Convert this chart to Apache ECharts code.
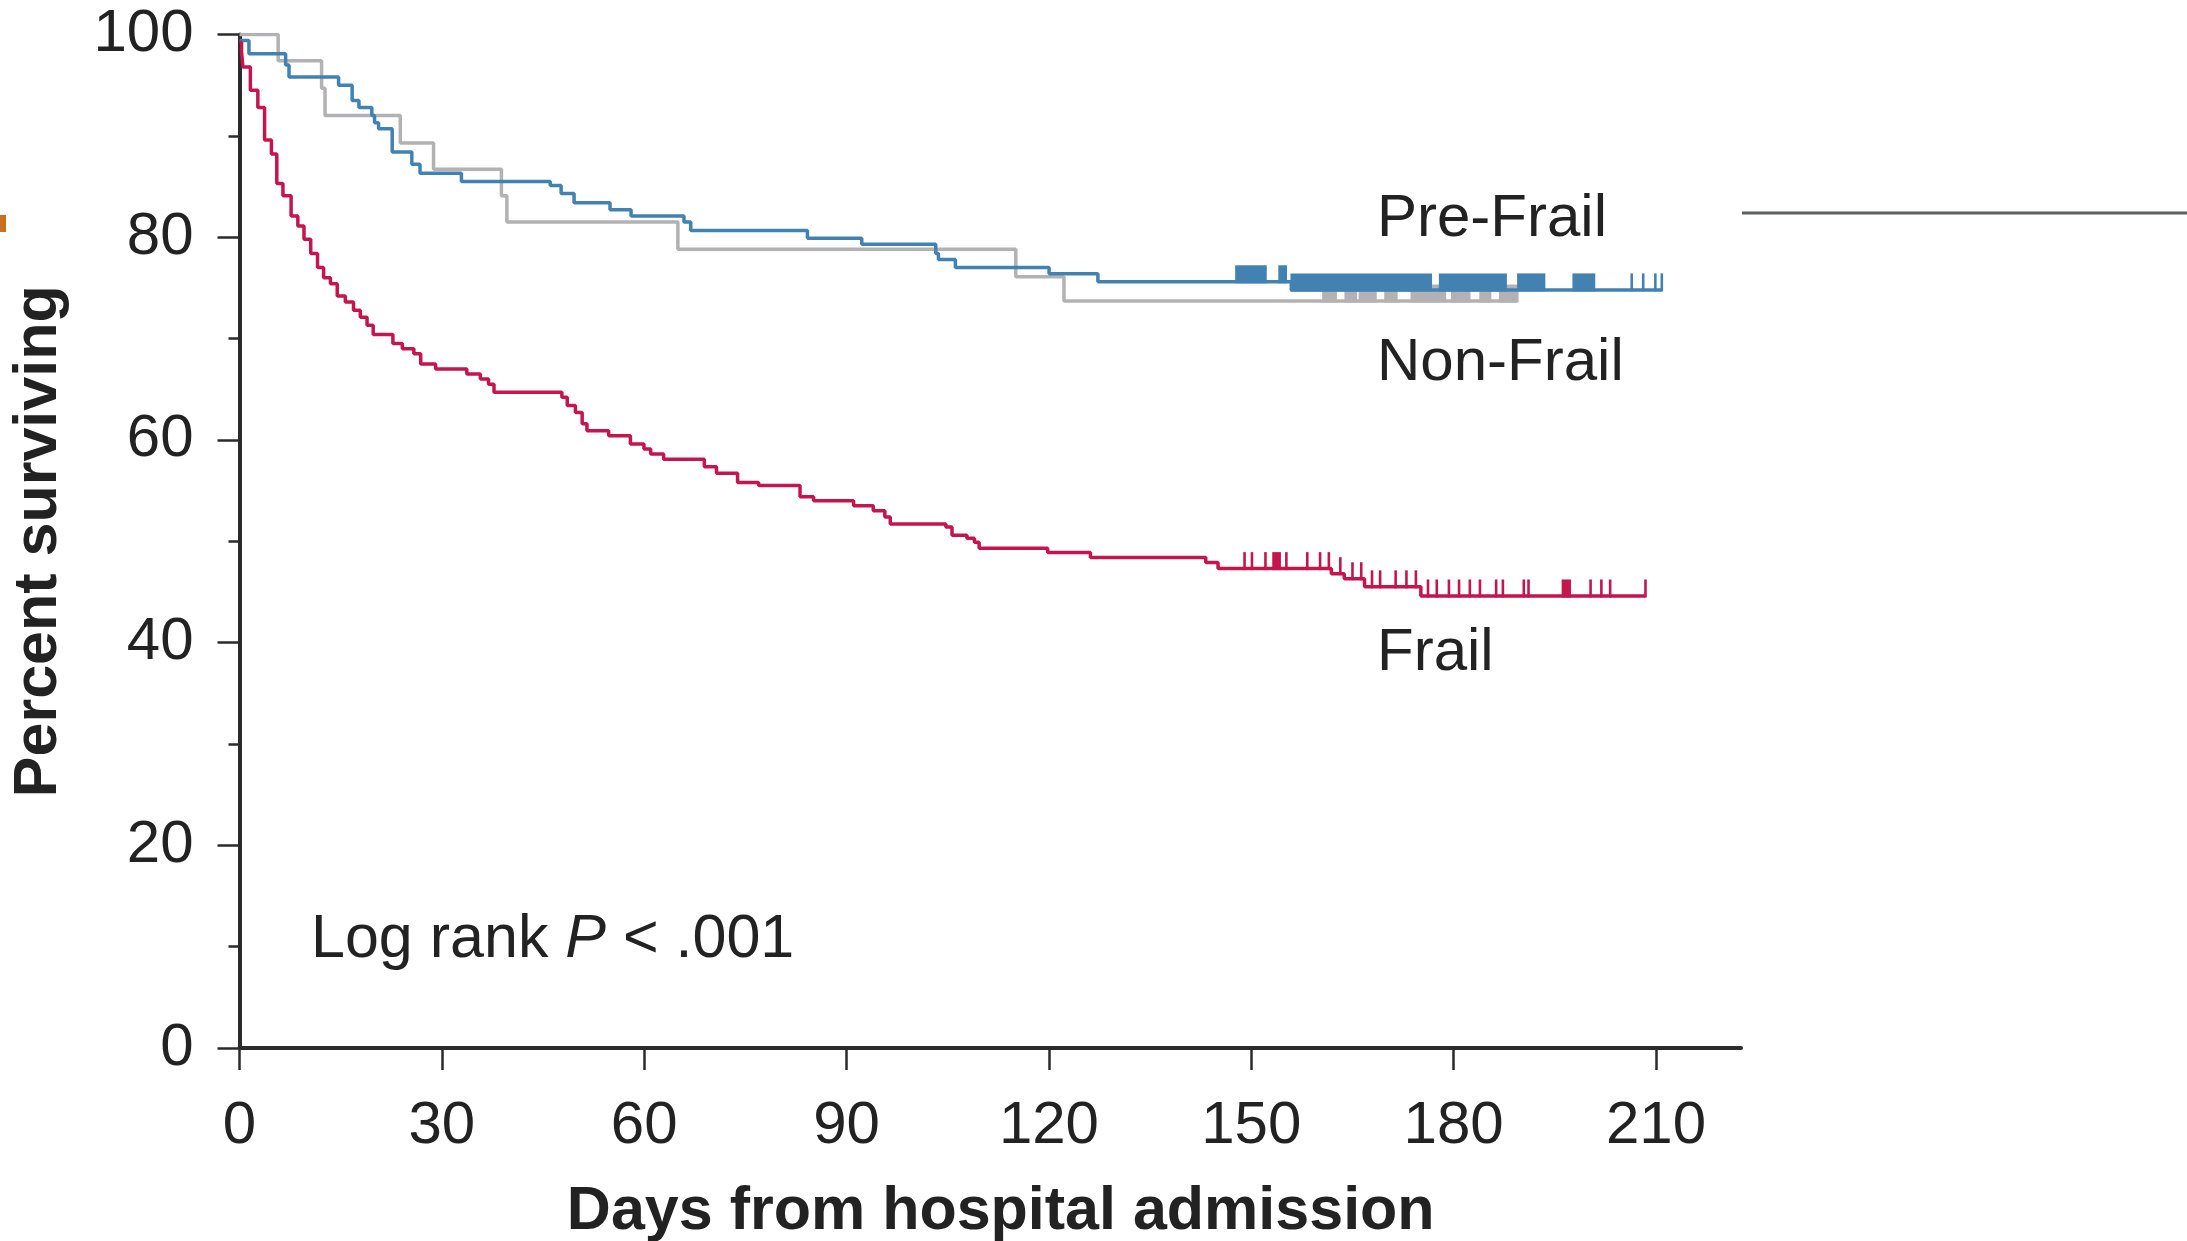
<!DOCTYPE html>
<html>
<head>
<meta charset="utf-8">
<title>Survival by frailty status</title>
<script src="https://cdn.jsdelivr.net/npm/echarts@6/dist/echarts.min.js"></script>
<style>
  html, body { margin: 0; padding: 0; background: #fff; }
  #chart { width: 2187px; height: 1241px; }
</style>
</head>
<body>
<div id="chart"></div>
<script>
// Kaplan-Meier steps: day at which the level starts, percent surviving
const nonFrailDays = [0, 5.73, 12.17, 12.68, 23.84, 28.77, 38.83, 39.64, 64.99, 115.09, 122.23, 189.43]
const nonFrailPct = [100, 97.4, 94.7, 92.0, 89.3, 86.7, 84.1, 81.5, 78.8, 76.1, 73.7, 73.7]

const preFrailDays = [0, 1.4, 6.84, 7.34, 14.69, 16.7, 17.71, 19.62, 20.02, 20.62, 22.64, 25.55, 26.76, 32.9,
  46.07, 47.68, 49.6, 54.93, 58.05, 65.89, 66.9, 84.2, 92.25, 103.22, 103.62, 106.13, 120.02, 127.26, 155.93, 210.86]
const preFrailPct = [99.4, 98.1, 97.0, 95.8, 95.0, 93.5, 92.8, 92.0, 91.3, 90.7, 88.4, 87.2, 86.3, 85.5,
  85.1, 84.3, 83.4, 82.7, 82.1, 81.5, 80.65, 79.9, 79.3, 78.4, 77.8, 77.0, 76.4, 75.6, 74.8, 74.8]

const frailDays = [0, 0.3, 0.5, 1.61, 2.72, 3.72, 4.73, 5.53, 6.44, 7.65, 8.65, 9.56, 10.56, 11.57, 12.47, 13.48,
  14.49, 15.69, 16.9, 17.91, 18.91, 19.82, 22.74, 24.14, 25.85, 26.86, 29.07, 33.7, 35.71, 36.92, 37.73, 47.79,
  48.59, 49.8, 50.8, 51.51, 54.73, 57.95, 59.96, 60.96, 62.88, 68.91, 70.72, 73.84, 76.96, 83.1, 85.11, 91.04,
  93.96, 95.67, 96.48, 104.72, 105.63, 107.84, 108.95, 109.65, 119.81, 126.15, 143.25, 145.07, 161.87, 163.78,
  166.79, 175.14, 208.44]
const frailPct = [99.2, 98.3, 96.8, 94.5, 92.8, 89.6, 88.2, 85.3, 84.1, 82.1, 81.1, 79.8, 78.4, 77.0, 76.0, 75.4,
  74.2, 73.6, 72.8, 72.1, 71.3, 70.4, 69.5, 69.0, 68.5, 67.5, 67.0, 66.5, 66.0, 65.5, 64.7, 64.2,
  63.4, 62.7, 61.6, 60.9, 60.4, 59.6, 59.1, 58.6, 58.1, 57.35, 56.7, 55.8, 55.5, 54.4, 54.0, 53.5,
  53.0, 52.4, 51.7, 51.4, 50.6, 50.3, 49.9, 49.3, 48.9, 48.4, 47.9, 47.3, 46.8, 46.3,
  45.5, 44.6, 44.6]

// censored observations: [from day, to day] (dense clusters become blocks)
const preFrailCensor = [[147.8, 152.1], [154.2, 155.1], [156.0, 176.6], [178.0, 187.7], [189.6, 193.4],
  [197.8, 200.8], [206.4, 206.4], [208.1, 208.1], [209.9, 209.9], [210.86, 210.86]]
const nonFrailCensor = [[160.7, 162.5], [164.0, 165.5], [166.1, 168.4], [169.9, 171.5], [173.8, 178.7],
  [179.8, 182.3], [184.0, 185.4], [186.9, 189.43]]
const frailCensor = [[149.0, 149.0], [150.1, 150.1], [152.1, 152.1], [153.3, 154.2], [155.2, 155.2],
  [158.3, 158.3], [160.2, 160.2], [161.5, 161.5], [163.2, 163.2], [165.0, 165.0], [166.3, 166.3],
  [167.9, 167.9], [169.1, 169.1], [171.4, 171.4], [173.0, 173.0], [174.4, 174.4], [176.2, 176.2],
  [177.5, 177.5], [179.3, 179.3], [180.8, 180.8], [182.4, 182.4], [183.9, 183.9], [186.3, 186.3],
  [187.3, 187.3], [190.4, 190.4], [191.1, 191.1], [196.2, 197.2], [200.3, 200.3], [201.9, 201.9],
  [203.2, 203.2], [208.44, 208.44]]

const xTicks = [0, 30, 60, 90, 120, 150, 180, 210]

const FONT = '"Liberation Sans", Arial, Helvetica, sans-serif'
const BLUE = '#4282b2'
const GRAY = '#b2b2b4'
const RED = '#c4154d'
const INK = '#222'
const AXIS = '#2b2b2b'

const chart = echarts.init(document.getElementById('chart'))

function steps(days, pct) {
  return days.map((d, i) => [d, pct[i]])
}

// survival level in force at day t
function levelAt(days, pct, t) {
  let v = pct[0]
  for (let i = 0; i < days.length; i++) {
    if (days[i] <= t) v = pct[i]
  }
  return v
}

function censorData(ranges, days, pct) {
  return ranges.map(r => [r[0], r[1], levelAt(days, pct, r[0])])
}

function renderCensor(params, api) {
  const a = api.coord([api.value(0), api.value(2)])
  const b = api.coord([api.value(1), api.value(2)])
  const w = Math.max(b[0] - a[0], 0) + 2.6
  return {
    type: 'rect',
    shape: { x: a[0] - 1.3, y: a[1] - 16.5, width: w, height: 18 },
    style: { fill: api.visual('color') }
  }
}

function kmLine(name, days, pct, color) {
  return {
    name: name,
    type: 'line',
    step: 'end',
    showSymbol: false,
    data: steps(days, pct),
    lineStyle: { color: color, width: 3.5 },
    itemStyle: { color: color }
  }
}

function censorSeries(name, ranges, days, pct, color) {
  return {
    name: name + ' censored',
    type: 'custom',
    renderItem: renderCensor,
    encode: { x: [0, 1], y: 2 },
    itemStyle: { color: color },
    data: censorData(ranges, days, pct)
  }
}

const option = {
  animation: false,
  backgroundColor: '#fff',
  textStyle: { fontFamily: FONT },
  grid: { left: 239.5, top: 34.5, right: 446, bottom: 193, containLabel: false, outerBoundsMode: 'none' },
  xAxis: {
    type: 'value',
    min: 0,
    max: 222.6,
    interval: 30,
    name: 'Days from hospital admission',
    nameLocation: 'middle',
    nameGap: 134,
    nameTextStyle: { fontFamily: FONT, fontSize: 61, fontWeight: 'bold', color: INK, padding: [0, 0, 0, 21] },
    axisLine: { show: true, lineStyle: { color: AXIS, width: 4 } },
    axisTick: { show: true, length: 22, customValues: xTicks, lineStyle: { color: AXIS, width: 2.5 } },
    axisLabel: { customValues: xTicks, margin: 48, fontFamily: FONT, fontSize: 60, color: INK },
    splitLine: { show: false }
  },
  yAxis: {
    type: 'value',
    min: 0,
    max: 100,
    interval: 20,
    name: 'Percent surviving',
    nameLocation: 'middle',
    nameGap: 170,
    nameTextStyle: { fontFamily: FONT, fontSize: 61, fontWeight: 'bold', color: INK },
    axisLine: { show: true, lineStyle: { color: AXIS, width: 4 } },
    axisTick: { show: true, length: 22, lineStyle: { color: AXIS, width: 2.5 } },
    minorTick: { show: true, splitNumber: 2, length: 11, lineStyle: { color: AXIS, width: 2.5 } },
    axisLabel: { margin: 46, fontFamily: FONT, fontSize: 60, color: INK },
    splitLine: { show: false }
  },
  series: [
    kmLine('Non-Frail', nonFrailDays, nonFrailPct, GRAY),
    censorSeries('Non-Frail', nonFrailCensor, nonFrailDays, nonFrailPct, GRAY),
    kmLine('Pre-Frail', preFrailDays, preFrailPct, BLUE),
    censorSeries('Pre-Frail', preFrailCensor, preFrailDays, preFrailPct, BLUE),
    kmLine('Frail', frailDays, frailPct, RED),
    censorSeries('Frail', frailCensor, frailDays, frailPct, RED)
  ],
  graphic: [
    { type: 'text', left: 1377, top: 189, style: { text: 'Pre-Frail', font: '60px ' + FONT, fill: INK } },
    { type: 'text', left: 1377, top: 333, style: { text: 'Non-Frail', font: '60px ' + FONT, fill: INK } },
    { type: 'text', left: 1377, top: 623, style: { text: 'Frail', font: '60px ' + FONT, fill: INK } },
    {
      type: 'text', left: 311, top: 910,
      style: {
        text: 'Log rank {i|P} < .001',
        font: '61px ' + FONT,
        fill: INK,
        rich: { i: { fontStyle: 'italic', fontSize: 61, fontFamily: FONT, fill: INK } }
      }
    },
    // leftovers of the cropped page
    { type: 'rect', shape: { x: 0, y: 215, width: 6, height: 17 }, style: { fill: '#c8701e' } },
    { type: 'line', shape: { x1: 1742, y1: 213, x2: 2187, y2: 213 }, style: { stroke: '#5a5e63', lineWidth: 3 } }
  ]
}

chart.setOption(option)
</script>
</body>
</html>
